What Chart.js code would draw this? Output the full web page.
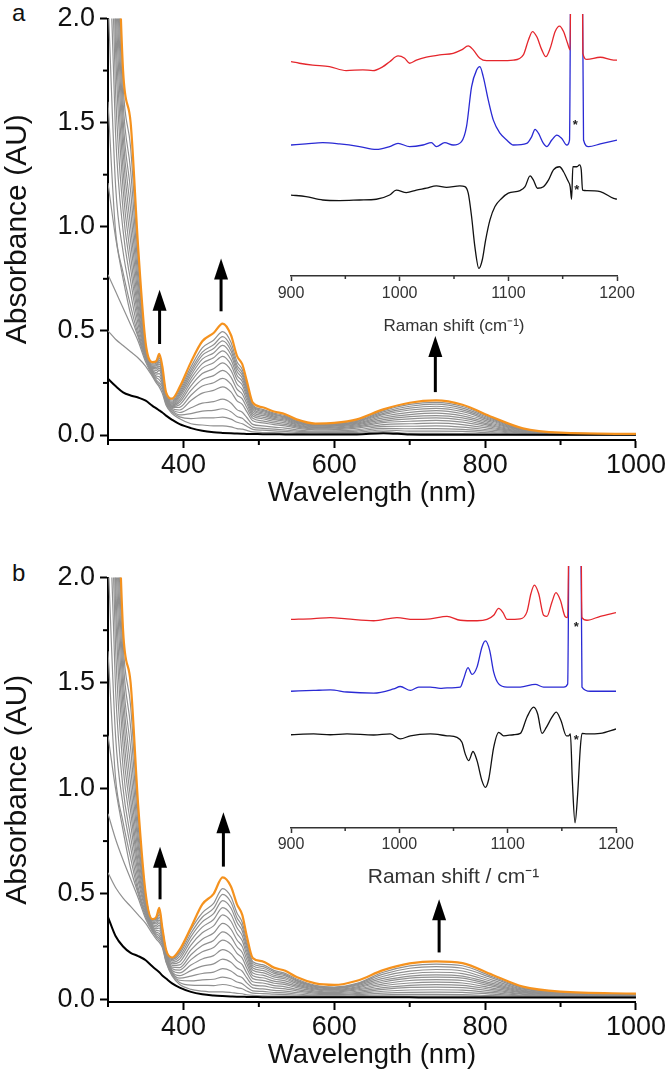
<!DOCTYPE html>
<html><head><meta charset="utf-8">
<script src="https://cdn.jsdelivr.net/npm/chart.js@4.4.1/dist/chart.umd.min.js"></script>
<style>
html,body{margin:0;padding:0;background:#fff;}
body{width:670px;height:1089px;position:relative;overflow:hidden;font-family:'Liberation Sans',Arial,sans-serif;}
canvas{position:absolute;left:0;}
.lbl{position:absolute;left:12px;font-size:24px;line-height:28px;color:#111;}
</style></head><body>
<div class="lbl" style="top:-1px">a</div>
<div class="lbl" style="top:559px">b</div>
<canvas id="mainA" width="670" height="545" style="top:0"></canvas>
<canvas id="insetA" width="670" height="545" style="top:0"></canvas>
<canvas id="mainB" width="670" height="530" style="top:559px"></canvas>
<canvas id="insetB" width="670" height="530" style="top:559px"></canvas>
<script>
const FONT = "'Liberation Sans', Arial, Helvetica, sans-serif";
Chart.defaults.font.family = FONT;
Chart.defaults.color = '#111';

// wavelength grid (nm)
const WL = [300,310,320,330,340,350,359,364,368,372,377,385,395,410,425,440,452,463,471,478,484,492,505,520,535,550,575,600,630,665,700,735,770,810,850,900,1000];

// ---- panel a : absorbance ----
const blackA = [0.27,0.235,0.205,0.19,0.18,0.165,0.14,0.128,0.118,0.108,0.093,0.073,0.052,0.033,0.02,0.013,0.01,0.008,0.007,0.006,0.005,0.005,0.004,0.004,0.003,0.003,0.003,0.003,0.003,0.009,0.002,0.001,0.001,0.001,0.001,0.001,0.001];
const orangeA = [4.6,2.9,1.75,1.5,0.9,0.44,0.35,0.355,0.39,0.33,0.205,0.175,0.23,0.35,0.45,0.49,0.535,0.48,0.38,0.34,0.26,0.155,0.133,0.113,0.100,0.075,0.055,0.058,0.075,0.123,0.155,0.166,0.145,0.085,0.032,0.011,0.005];
const grayA1 = [0.50,0.46,0.43,0.40,0.37,0.33,0.28,0.25,0.23,0.20,0.143,0.103,0.078,0.054,0.048,0.044,0.044,0.039,0.031,0.028,0.022,0.015,0.012,0.011,0.009,0.008,0.006,0.007,0.008,0.016,0.008,0.008,0.007,0.004,0.002,0.001,0.001];
const grayA2 = [0.77,0.69,0.61,0.53,0.45,0.35,0.285,0.258,0.24,0.215,0.15,0.11,0.087,0.079,0.082,0.082,0.086,0.076,0.061,0.054,0.042,0.027,0.023,0.020,0.017,0.013,0.011,0.011,0.013,0.024,0.019,0.019,0.017,0.010,0.004,0.002,0.001];
const grayA3 = [1.21,0.95,0.75,0.58,0.47,0.36,0.29,0.265,0.25,0.23,0.156,0.117,0.097,0.103,0.115,0.118,0.126,0.112,0.089,0.080,0.061,0.038,0.032,0.028,0.024,0.019,0.014,0.015,0.019,0.032,0.030,0.031,0.027,0.016,0.007,0.003,0.002];
const grayA4 = [1.6,0.98,0.78,0.62,0.48,0.37,0.295,0.275,0.265,0.24,0.162,0.122,0.108,0.131,0.153,0.160,0.172,0.154,0.122,0.109,0.084,0.051,0.044,0.038,0.033,0.025,0.019,0.020,0.025,0.041,0.042,0.044,0.038,0.023,0.009,0.004,0.002];
const grayA5 = [2.1,1.2,0.88,0.68,0.50,0.375,0.30,0.283,0.28,0.25,0.167,0.127,0.12,0.166,0.201,0.214,0.231,0.207,0.164,0.147,0.112,0.068,0.058,0.050,0.044,0.033,0.025,0.026,0.033,0.050,0.054,0.057,0.050,0.030,0.012,0.004,0.002];
const grayA6 = [2.6,1.45,0.98,0.74,0.53,0.38,0.305,0.292,0.295,0.26,0.172,0.132,0.133,0.191,0.235,0.251,0.272,0.244,0.193,0.173,0.132,0.080,0.068,0.058,0.051,0.039,0.029,0.030,0.039,0.059,0.066,0.070,0.062,0.036,0.014,0.005,0.003];
const grayA7 = [3.0,1.65,1.08,0.80,0.56,0.385,0.31,0.30,0.31,0.27,0.176,0.136,0.145,0.214,0.266,0.285,0.310,0.278,0.220,0.197,0.151,0.091,0.078,0.066,0.058,0.044,0.033,0.034,0.044,0.066,0.077,0.082,0.072,0.042,0.016,0.006,0.003];
const grayA8 = [3.4,1.85,1.18,0.86,0.59,0.39,0.315,0.31,0.32,0.28,0.18,0.14,0.157,0.236,0.295,0.318,0.346,0.310,0.245,0.219,0.168,0.101,0.086,0.074,0.065,0.049,0.036,0.038,0.049,0.074,0.088,0.093,0.082,0.048,0.018,0.007,0.003];
const grayA9 = [3.7,2.0,1.27,0.93,0.62,0.395,0.32,0.318,0.33,0.29,0.184,0.144,0.168,0.255,0.321,0.347,0.378,0.338,0.268,0.240,0.184,0.110,0.094,0.080,0.071,0.053,0.039,0.042,0.053,0.082,0.098,0.105,0.092,0.054,0.021,0.007,0.004];
const grayA10 = [3.9,2.15,1.36,1.0,0.66,0.40,0.325,0.325,0.34,0.295,0.187,0.148,0.18,0.271,0.343,0.371,0.404,0.362,0.287,0.257,0.197,0.118,0.101,0.086,0.076,0.057,0.042,0.044,0.057,0.090,0.109,0.117,0.102,0.060,0.023,0.008,0.004];
const grayA11 = [4.1,2.3,1.44,1.08,0.70,0.41,0.33,0.332,0.35,0.30,0.19,0.152,0.19,0.286,0.364,0.394,0.430,0.385,0.305,0.273,0.209,0.125,0.107,0.091,0.081,0.061,0.045,0.047,0.061,0.098,0.120,0.128,0.112,0.066,0.025,0.009,0.004];
const grayA12 = [4.3,2.45,1.52,1.17,0.74,0.415,0.335,0.338,0.358,0.31,0.194,0.157,0.199,0.300,0.382,0.415,0.452,0.405,0.321,0.287,0.220,0.131,0.113,0.096,0.085,0.064,0.047,0.049,0.064,0.104,0.129,0.138,0.121,0.071,0.027,0.009,0.004];
const grayA13 = [4.4,2.6,1.6,1.27,0.79,0.42,0.34,0.345,0.368,0.315,0.197,0.162,0.208,0.312,0.398,0.433,0.472,0.423,0.335,0.300,0.229,0.137,0.118,0.100,0.088,0.066,0.049,0.051,0.066,0.111,0.138,0.148,0.129,0.076,0.029,0.010,0.005];
const grayA14 = [4.5,2.75,1.68,1.38,0.84,0.43,0.345,0.35,0.378,0.32,0.2,0.168,0.218,0.327,0.418,0.455,0.496,0.445,0.352,0.315,0.241,0.144,0.123,0.105,0.093,0.070,0.051,0.054,0.070,0.117,0.147,0.157,0.137,0.080,0.030,0.010,0.005];

// ---- panel b : absorbance ----
const blackB = [0.39,0.30,0.25,0.22,0.205,0.185,0.155,0.14,0.128,0.113,0.098,0.075,0.055,0.035,0.024,0.018,0.015,0.013,0.012,0.012,0.011,0.011,0.01,0.01,0.01,0.01,0.01,0.01,0.01,0.01,0.009,0.008,0.008,0.008,0.008,0.008,0.008];
const orangeB = [4.6,2.9,1.75,1.5,0.92,0.5,0.38,0.39,0.433,0.34,0.235,0.198,0.235,0.34,0.45,0.50,0.578,0.535,0.45,0.40,0.30,0.195,0.18,0.15,0.135,0.105,0.075,0.068,0.088,0.138,0.17,0.18,0.171,0.115,0.06,0.036,0.027];
const grayB1 = [0.60,0.53,0.48,0.44,0.40,0.36,0.31,0.285,0.27,0.245,0.175,0.11,0.07,0.047,0.039,0.035,0.035,0.032,0.028,0.026,0.021,0.018,0.016,0.015,0.015,0.013,0.012,0.012,0.013,0.015,0.015,0.015,0.015,0.012,0.010,0.009,0.009];
const grayB2 = [0.88,0.76,0.66,0.57,0.48,0.38,0.32,0.295,0.28,0.255,0.18,0.115,0.08,0.067,0.066,0.065,0.070,0.064,0.055,0.050,0.039,0.029,0.027,0.024,0.022,0.019,0.016,0.015,0.017,0.021,0.023,0.023,0.022,0.017,0.013,0.010,0.010];
const grayB3 = [1.25,1.0,0.80,0.62,0.50,0.39,0.325,0.302,0.29,0.265,0.185,0.12,0.09,0.087,0.092,0.095,0.105,0.097,0.082,0.074,0.057,0.040,0.037,0.032,0.030,0.025,0.020,0.019,0.022,0.029,0.033,0.034,0.033,0.024,0.016,0.012,0.011];
const grayB4 = [1.65,1.05,0.84,0.67,0.51,0.40,0.33,0.31,0.30,0.272,0.19,0.125,0.10,0.110,0.122,0.129,0.145,0.134,0.113,0.102,0.078,0.054,0.049,0.042,0.039,0.032,0.024,0.022,0.027,0.038,0.044,0.045,0.043,0.031,0.019,0.014,0.012];
const grayB5 = [2.1,1.25,0.92,0.72,0.53,0.41,0.335,0.318,0.312,0.28,0.195,0.13,0.112,0.136,0.157,0.168,0.190,0.175,0.148,0.133,0.101,0.068,0.063,0.054,0.049,0.040,0.029,0.027,0.032,0.047,0.056,0.058,0.055,0.039,0.023,0.016,0.014];
const grayB6 = [2.6,1.47,1.0,0.77,0.56,0.42,0.34,0.326,0.325,0.288,0.2,0.137,0.125,0.162,0.191,0.207,0.235,0.217,0.183,0.164,0.124,0.083,0.077,0.065,0.059,0.047,0.034,0.031,0.038,0.055,0.066,0.069,0.066,0.046,0.026,0.018,0.015];
const grayB7 = [3.0,1.67,1.1,0.83,0.59,0.43,0.345,0.334,0.338,0.296,0.205,0.145,0.138,0.188,0.225,0.245,0.280,0.259,0.218,0.195,0.147,0.098,0.090,0.076,0.069,0.055,0.039,0.035,0.044,0.064,0.077,0.081,0.077,0.053,0.030,0.020,0.016];
const grayB8 = [3.4,1.86,1.2,0.89,0.62,0.44,0.35,0.342,0.35,0.303,0.21,0.152,0.15,0.211,0.255,0.279,0.320,0.296,0.249,0.222,0.168,0.111,0.102,0.086,0.078,0.062,0.044,0.039,0.049,0.073,0.089,0.093,0.089,0.061,0.034,0.022,0.017];
const grayB9 = [3.7,2.0,1.29,0.95,0.65,0.45,0.355,0.35,0.362,0.31,0.215,0.16,0.163,0.234,0.285,0.314,0.360,0.333,0.281,0.250,0.188,0.124,0.114,0.096,0.087,0.068,0.048,0.043,0.054,0.082,0.100,0.105,0.100,0.068,0.037,0.024,0.019];
const grayB10 = [3.9,2.15,1.38,1.02,0.69,0.46,0.36,0.358,0.375,0.317,0.22,0.168,0.177,0.257,0.315,0.348,0.400,0.370,0.312,0.277,0.209,0.137,0.126,0.106,0.096,0.075,0.052,0.046,0.059,0.090,0.110,0.116,0.110,0.075,0.041,0.026,0.020];
const grayB11 = [4.1,2.3,1.46,1.1,0.73,0.47,0.365,0.366,0.388,0.323,0.225,0.175,0.19,0.278,0.342,0.378,0.435,0.402,0.339,0.301,0.227,0.148,0.137,0.114,0.103,0.081,0.056,0.050,0.064,0.099,0.121,0.128,0.122,0.083,0.044,0.028,0.021];
const grayB12 = [4.3,2.45,1.54,1.19,0.77,0.48,0.37,0.374,0.402,0.329,0.228,0.182,0.203,0.297,0.367,0.406,0.468,0.433,0.365,0.324,0.244,0.159,0.147,0.123,0.111,0.087,0.060,0.053,0.068,0.109,0.133,0.141,0.134,0.091,0.048,0.030,0.023];
const grayB13 = [4.4,2.6,1.62,1.29,0.82,0.49,0.374,0.381,0.415,0.334,0.231,0.188,0.215,0.313,0.389,0.431,0.497,0.460,0.387,0.344,0.258,0.169,0.156,0.130,0.117,0.091,0.063,0.055,0.072,0.119,0.147,0.155,0.147,0.100,0.052,0.032,0.024];
const grayB14 = [4.5,2.75,1.69,1.39,0.87,0.495,0.377,0.386,0.425,0.337,0.233,0.193,0.225,0.330,0.410,0.455,0.525,0.486,0.409,0.364,0.273,0.178,0.164,0.137,0.123,0.096,0.066,0.058,0.075,0.128,0.158,0.167,0.159,0.107,0.056,0.034,0.026];

// arrows: [wavelength, tail absorbance, tip absorbance]
const arrowsA = [[368.4,0.437,0.698],[449.9,0.594,0.847],[734,0.206,0.475]];
const arrowsB = [[369,0.474,0.723],[453,0.629,0.887],[739,0.222,0.474]];

// ---- Raman insets: [shift cm-1, intensity (a.u.)] ----
const ramanRedA = [[900,81.8],[907.7,81.2],[920,80.5],[935.4,79.9],[950.8,78.4],[966.2,78.7],[975.4,78.4],[984.6,79.9],[990.8,81.8],[998.5,84.0],[1004.6,83.1],[1009.2,81.2],[1015.4,82.4],[1024.6,83.5],[1036.9,84.4],[1049.2,85.0],[1056.9,86.3],[1063.1,87.8],[1067.7,86.3],[1073.8,83.1],[1080,82.2],[1092.3,82.2],[1104.6,82.4],[1113.8,84.4],[1118.5,90.1],[1122.2,93.3],[1126.2,91.3],[1130.8,86.3],[1134.5,83.7],[1138.5,86.9],[1143.1,93.3],[1147.1,95.4],[1150.8,93.3],[1154.5,88.8],[1156.9,86.3],[1157.8,140],[1167.7,140],[1168.6,85.0],[1172.3,82.7],[1184.6,83.5],[1196.9,82.4],[1200,82.4]];
const ramanBlueA = [[900,50.0],[913.8,50.4],[929.2,50.9],[944.6,50.4],[963.1,49.4],[978.5,48.3],[990.8,49.4],[998.5,50.6],[1009.2,49.4],[1021.5,50.0],[1029.2,50.9],[1033.8,49.4],[1041.5,50.9],[1049.2,50.0],[1056.9,51.3],[1061.5,57.0],[1066.2,72.3],[1070.8,78.6],[1073.8,79.9],[1076.9,76.1],[1081.5,67.2],[1086.2,59.5],[1092.3,54.5],[1098.5,51.9],[1104.6,50.0],[1116.9,50.6],[1121.5,53.2],[1124.6,56.0],[1127.7,54.5],[1132.3,50.6],[1135.4,49.4],[1140,51.9],[1144.6,53.8],[1149.2,52.5],[1153.8,50.0],[1156.3,51.9],[1157.8,140],[1167.7,140],[1169.2,51.9],[1173.8,49.4],[1184.6,50.4],[1200,51.9]];
const ramanDiffA = [[900,30.9],[913.8,30.3],[929.2,29.0],[944.6,28.8],[963.1,29.0],[978.5,29.3],[990.8,30.9],[996.9,32.8],[1006.2,31.8],[1015.4,32.8],[1024.6,33.5],[1033.8,34.4],[1043.1,33.8],[1055.4,34.4],[1060,34.1],[1063.1,31.6],[1066.2,22.6],[1069.2,11.2],[1072.9,2.9],[1076,6.1],[1079.1,13.7],[1083.1,21.4],[1087.7,26.5],[1093.8,29.6],[1100,31.6],[1110.8,32.6],[1115.4,34.1],[1120,38.2],[1123.1,36.6],[1126.8,33.5],[1132.3,34.1],[1136.9,36.6],[1141.5,40.5],[1147.1,41.7],[1150.8,39.8],[1154.5,36.6],[1156.9,34.1],[1158.2,29.3],[1159.4,41.7],[1163.1,41.7],[1165.5,42.4],[1167.1,40.5],[1168.3,32.8],[1172.3,32.6],[1184.6,32.2],[1196.9,29.6],[1200,29.3]];
const starsA = [[1161.5,57.3],[1163,32.6]];

const ramanRedB = [[900,79.6],[920.9,79.9],[936.3,80.3],[951.7,79.8],[976.3,79.1],[997.8,80.3],[1013.2,79.6],[1028.6,79.8],[1044,80.8],[1056.3,79.3],[1071.7,79.1],[1080.9,79.6],[1087.1,81.2],[1091.7,83.8],[1095.7,82.2],[1099.4,79.6],[1111.7,79.8],[1117.8,82.5],[1121.5,89.5],[1124.6,92.7],[1128.6,89.5],[1133.2,81.2],[1136.3,80.8],[1140.9,86.3],[1144.6,89.8],[1148.6,87.0],[1153.2,80.6],[1155.4,80.3],[1157.2,140],[1167.1,140],[1168.6,80.3],[1173.2,79.3],[1185.5,80.8],[1200,82.2]];
const ramanBlueB = [[900,52.2],[920.9,52.5],[936.3,52.7],[951.7,51.9],[976.3,51.5],[994.8,53.1],[1000.9,54.0],[1010.2,52.5],[1017.8,53.8],[1028.6,53.8],[1037.8,53.3],[1044,53.5],[1056.3,53.8],[1059.4,57.0],[1063.4,61.2],[1067.1,58.6],[1071.7,61.4],[1076.3,69.1],[1079.4,71.4],[1083.4,67.8],[1087.1,59.5],[1091.7,55.0],[1099.4,53.8],[1111.7,53.8],[1125.5,54.8],[1133.2,53.8],[1142.5,53.8],[1151.7,53.8],[1155.4,55.0],[1157.2,140],[1167.1,140],[1168.6,53.8],[1176.3,52.2],[1200,52.2]];
const ramanDiffB = [[900,35.6],[920.9,35.9],[936.3,35.6],[951.7,35.9],[976.3,35.5],[991.7,35.9],[1000.9,34.0],[1010.2,35.2],[1028.6,35.9],[1044,35.2],[1053.2,34.6],[1057.8,32.7],[1060.9,28.2],[1064,25.7],[1068,29.2],[1071.7,25.7],[1076.3,18.0],[1079.4,15.5],[1082.5,18.6],[1087.1,30.8],[1091.7,36.5],[1096.3,35.2],[1105.5,35.6],[1111.7,36.1],[1117.8,42.3],[1124,46.1],[1127.7,43.5],[1131.7,36.1],[1135.7,38.4],[1140.9,42.3],[1144.9,44.2],[1149.2,41.0],[1154.2,35.2],[1156.3,35.2],[1157.9,35.9],[1159.7,18.0],[1162.2,2.0],[1164.6,12.9],[1167.1,30.8],[1168.6,36.1],[1173.2,35.9],[1185.5,36.1],[1200,37.8]];
const starsB = [[1163.4,76.5],[1163.4,33.6]];

// ticks
const xMajorMain = [400,600,800,1000];
const xMinorMain = [300,500,700,900];
const yMajorMain = [0,0.5,1.0,1.5,2.0];
const yMinorMain = [0.25,0.75,1.25,1.75];
const ramanMajor = [900,1000,1100,1200];
const ramanMinor = [950,1050,1150];

const grayListA = [grayA1,grayA2,grayA3,grayA4,grayA5,grayA6,grayA7,grayA8,grayA9,grayA10,grayA11,grayA12,grayA13,grayA14];
const grayListB = [grayB1,grayB2,grayB3,grayB4,grayB5,grayB6,grayB7,grayB8,grayB9,grayB10,grayB11,grayB12,grayB13,grayB14];

function series(ys){ return WL.map((w,i)=>({x:w,y:ys[i]})); }
function pairs(p){ return p.map(q=>({x:q[0],y:q[1]})); }

function extras(cfg){
  return {
    id:'extras',
    afterDraw(chart){
      const ctx = chart.ctx, xs = chart.scales.x, ys = chart.scales.y, ca = chart.chartArea;
      ctx.save();
      ctx.strokeStyle = cfg.color; ctx.lineWidth = cfg.minorW;
      (cfg.minorX||[]).forEach(v=>{
        const p = xs.getPixelForValue(v);
        ctx.beginPath(); ctx.moveTo(p, ca.bottom); ctx.lineTo(p, ca.bottom + cfg.minorLen); ctx.stroke();
      });
      (cfg.minorY||[]).forEach(v=>{
        const p = ys.getPixelForValue(v);
        ctx.beginPath(); ctx.moveTo(ca.left, p); ctx.lineTo(ca.left - cfg.minorLen, p); ctx.stroke();
      });
      (cfg.arrows||[]).forEach(a=>{
        const px = xs.getPixelForValue(a[0]), p0 = ys.getPixelForValue(a[1]), p1 = ys.getPixelForValue(a[2]);
        const head = 21, hw = 7;
        ctx.strokeStyle = '#000'; ctx.fillStyle = '#000'; ctx.lineWidth = 3;
        ctx.beginPath(); ctx.moveTo(px, p0); ctx.lineTo(px, p1 + head - 2); ctx.stroke();
        ctx.beginPath(); ctx.moveTo(px, p1); ctx.lineTo(px - hw, p1 + head); ctx.lineTo(px + hw, p1 + head); ctx.closePath(); ctx.fill();
      });
      (cfg.stars||[]).forEach(s=>{
        ctx.fillStyle = '#222'; ctx.font = 'bold 13px ' + FONT; ctx.textAlign = 'center'; ctx.textBaseline = 'middle';
        ctx.fillText('*', xs.getPixelForValue(s[0]), ys.getPixelForValue(s[1]));
      });
      ctx.restore();
    }
  };
}

function makeMain(id, grays, black, orange, yMin, pad, xH, arrows){
  const ds = [];
  ds.push({data:series(orange), borderColor:'#f5921e', borderWidth:2.2});
  ds.push({data:series(black), borderColor:'#000', borderWidth:2});
  grays.slice().reverse().forEach(g=>ds.push({data:series(g), borderColor:'#909090', borderWidth:1.2}));
  new Chart(document.getElementById(id), {
    type:'line',
    data:{datasets:ds},
    options:{
      responsive:false, animation:false, devicePixelRatio:1, events:[],
      elements:{point:{radius:0}, line:{cubicInterpolationMode:'monotone', fill:false}},
      layout:{padding:pad},
      plugins:{legend:{display:false}, tooltip:{enabled:false}},
      scales:{
        x:{type:'linear', min:300, max:1000,
          afterBuildTicks:s=>{ s.ticks = xMajorMain.map(v=>({value:v})); },
          afterFit:s=>{ s.height = xH; },
          ticks:{font:{size:27, lineHeight:1}, color:'#111', padding:4, maxRotation:0, autoSkip:false, callback:v=>String(v)},
          grid:{drawOnChartArea:false, drawTicks:true, tickLength:8, tickWidth:2, tickColor:'#000'},
          border:{display:true, color:'#000', width:2},
          title:{display:true, text:'Wavelength (nm)', font:{size:27.5}, color:'#111', padding:0}
        },
        y:{type:'linear', min:yMin, max:2,
          afterBuildTicks:s=>{ s.ticks = yMajorMain.map(v=>({value:v})); },
          afterFit:s=>{ s.width = 108; },
          ticks:{font:{size:27, lineHeight:1}, color:'#111', padding:5, callback:v=>Number(v).toFixed(1)},
          grid:{drawOnChartArea:false, drawTicks:true, tickLength:8, tickWidth:2, tickColor:'#000'},
          border:{display:true, color:'#000', width:2},
          title:{display:true, text:'Absorbance (AU)', font:{size:30}, color:'#111', padding:0}
        }
      }
    },
    plugins:[extras({minorX:xMinorMain, minorY:yMinorMain, minorLen:5, minorW:2, color:'#000', arrows:arrows})]
  });
}

function makeInset(id, red, blue, diff, pad, xH, title, titleSize, tickPad, stars){
  new Chart(document.getElementById(id), {
    type:'line',
    data:{datasets:[
      {data:pairs(red), borderColor:'#e5262c', borderWidth:1.3},
      {data:pairs(blue), borderColor:'#2a2ad4', borderWidth:1.3},
      {data:pairs(diff), borderColor:'#111', borderWidth:1.3}
    ]},
    options:{
      responsive:false, animation:false, devicePixelRatio:1, events:[],
      elements:{point:{radius:0}, line:{cubicInterpolationMode:'monotone', fill:false}},
      layout:{padding:pad},
      plugins:{legend:{display:false}, tooltip:{enabled:false}},
      scales:{
        x:{type:'linear', min:900, max:1200,
          afterBuildTicks:s=>{ s.ticks = ramanMajor.map(v=>({value:v})); },
          afterFit:s=>{ s.height = xH; },
          ticks:{font:{size:16, lineHeight:1}, color:'#333', padding:tickPad, maxRotation:0, autoSkip:false, callback:v=>String(v)},
          grid:{drawOnChartArea:false, drawTicks:true, tickLength:5, tickWidth:1.5, tickColor:'#333'},
          border:{display:true, color:'#333', width:1.5},
          title:{display:true, text:title, font:{size:titleSize}, color:'#333', padding:0}
        },
        y:{type:'linear', display:false, min:0, max:100}
      }
    },
    plugins:[extras({minorX:ramanMinor, minorLen:3, minorW:1.5, color:'#333', stars:stars})]
  });
}

makeMain('mainA', grayListA, blackA, orangeA, -0.024, {left:0, right:30, top:14, bottom:35}, 70, arrowsA);
makeMain('mainB', grayListB, blackB, orangeB, -0.013, {left:0, right:30, top:14, bottom:17}, 70, arrowsB);
makeInset('insetA', ramanRedA, ramanBlueA, ramanDiffA, {left:291, right:53, top:14, bottom:208}, 61, 'Raman shift (cm\u207B\u00B9)', 17, 5, starsA);
makeInset('insetB', ramanRedB, ramanBlueB, ramanDiffB, {left:291, right:54, top:7, bottom:199}, 62, 'Raman shift / cm\u207B\u00B9', 21, 4, starsB);
</script>
</body></html>
